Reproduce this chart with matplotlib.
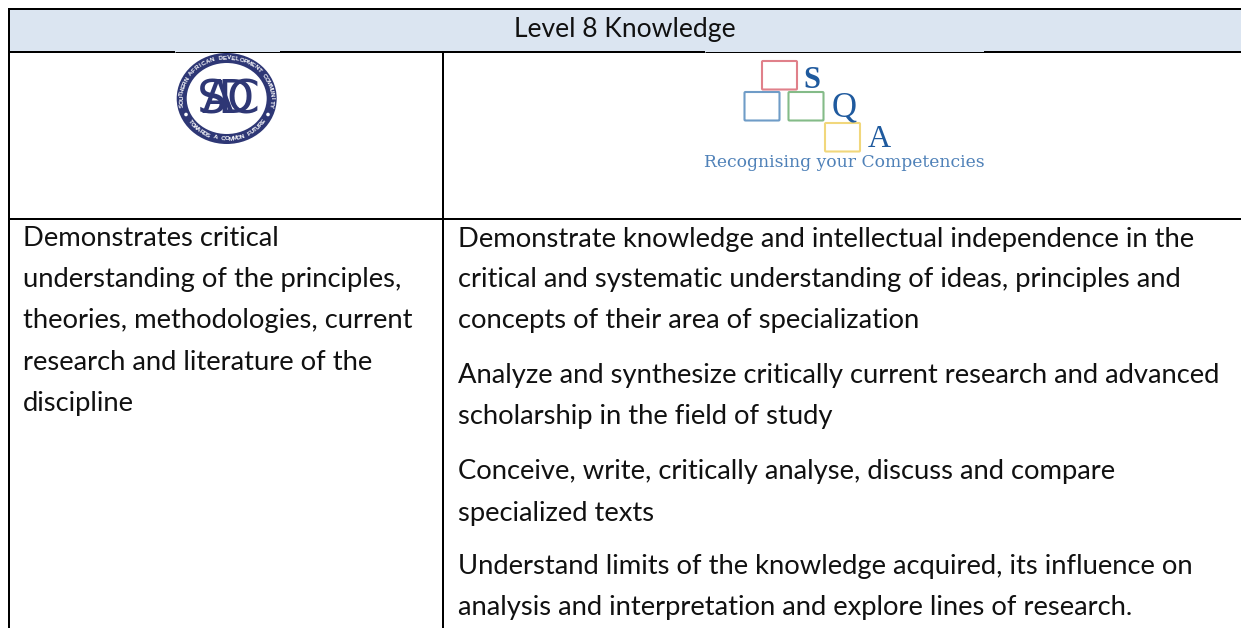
import matplotlib
matplotlib.use("Agg")
import matplotlib.pyplot as plt
from matplotlib.patches import Rectangle, Ellipse, FancyBboxPatch, Circle
import numpy as np

W, H = 1241, 628
TITLE = "Level 8 Knowledge"
LEFT_LINES = ["Demonstrates critical", "understanding of the principles,",
              "theories, methodologies, current", "research and literature of the", "discipline"]
LEFT_BASE = [246.5, 287.5, 328, 369.5, 411]
RIGHT_LINES = ["Demonstrate knowledge and intellectual independence in the",
               "critical and systematic understanding of ideas, principles and",
               "concepts of their area of specialization",
               "Analyze and synthesize critically current research and advanced",
               "scholarship in the field of study",
               "Conceive, write, critically analyse, discuss and compare",
               "specialized texts",
               "Understand limits of the knowledge acquired, its influence on",
               "analysis and interpretation and explore lines of research."]
RIGHT_BASE = [246.5, 287, 328, 383, 424, 479, 521, 574, 615]
LOGO_TEXT = "Recognising your Competencies"
RING_TOP = "SOUTHERN AFRICAN DEVELOPMENT COMMUNITY"
RING_BOTTOM = "TOWARDS A COMMON FUTURE"

plt.rcParams['font.family'] = ['Lato', 'DejaVu Sans']
fig = plt.figure(figsize=(W/100, H/100), dpi=100)
ax = fig.add_axes([0, 0, 1, 1])
ax.set_xlim(0, W); ax.set_ylim(H, 0); ax.axis('off')

ax.add_patch(Rectangle((9, 9), W-9, 43, fc='#dbe5f1', ec='none'))
LW = 2*0.72
THIN = 1*0.72
for y in (9, 219.2):
    ax.plot([8, W], [y, y], color='k', lw=LW, solid_capstyle='butt')
for a, b in ((8, 175), (280, 705), (984, W)):
    ax.plot([a, b], [52, 52], color='k', lw=LW, solid_capstyle='butt')
for a, b in ((175, 280), (705, 984)):
    ax.plot([a, b], [51.5, 51.5], color='k', lw=THIN, solid_capstyle='butt')
for x, y0 in ((9, 8), (443.3, 52)):
    ax.plot([x, x], [y0, H], color='k', lw=LW, solid_capstyle='butt')

FS = 19.7
INK = '#111111'
ax.text(625, 37, TITLE, ha='center', va='baseline', fontsize=19.1, color=INK)
for s, y in zip(LEFT_LINES, LEFT_BASE):
    ax.text(23, y, s, ha='left', va='baseline', fontsize=FS, color=INK)
for s, y in zip(RIGHT_LINES, RIGHT_BASE):
    ax.text(458, y, s, ha='left', va='baseline', fontsize=FS, color=INK)

# SADC logo
navy = '#2e3775'
cx, cy = 226.7, 98.5
ax.add_patch(Ellipse((cx, cy), 90, 81, fc='white', ec=navy, lw=10*0.72))
for ch, x in zip("SADC", (212, 218, 235, 243)):
    ax.text(x, 113, ch, ha='center', va='baseline', fontsize=34, color=navy,
            family=['Liberation Sans Narrow', 'DejaVu Sans'])
for s, t0, t1, off in ((RING_TOP, 190, -10, -90), (RING_BOTTOM, 215, 325, 90)):
    for ch, t in zip(s, np.linspace(t0, t1, len(s))):
        r = np.deg2rad(t)
        ax.text(cx + 45*np.cos(r), cy - 40.5*np.sin(r), ch, ha='center', va='center',
                fontsize=4.6, color='white', rotation=t+off, weight='bold',
                family=['Liberation Sans', 'DejaVu Sans'])
for x in (186, 268):
    ax.add_patch(Circle((x, 114.5), 1.8, fc='white', ec='none'))

# SQA logo
for (x, y, c) in ((762, 61, '#e0808a'), (744.5, 92, '#6f9cc7'), (788.5, 92, '#84bb88'), (825, 123, '#f1d77c')):
    ax.add_patch(FancyBboxPatch((x, y), 35, 28.5, boxstyle='round,pad=0,rounding_size=1', fc='white', ec=c, lw=1.5))
blue = '#1f5a9e'
SERIF = ['Liberation Serif', 'DejaVu Serif']
ax.text(811.7, 88, "S", ha='center', va='baseline', fontsize=22, color=blue, family=SERIF, weight='bold')
ax.text(844, 117, "Q", ha='center', va='baseline', fontsize=25, color=blue, family=SERIF)
ax.text(879, 147, "A", ha='center', va='baseline', fontsize=23, color=blue, family=SERIF)
ax.text(844.5, 167, LOGO_TEXT, ha='center', va='baseline', fontsize=12.3, color='#4f81b8',
        family=['DejaVu Serif', 'Liberation Serif'])

fig.savefig("out.png", dpi=100)
